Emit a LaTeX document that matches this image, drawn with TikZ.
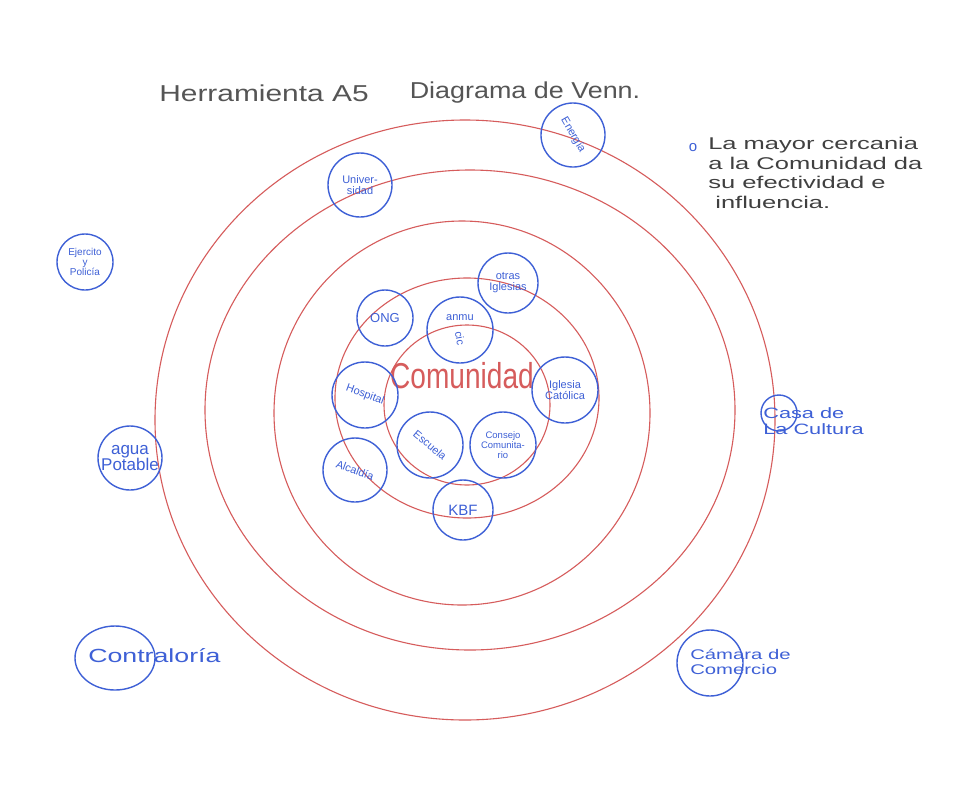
\documentclass[tikz,border=0pt]{standalone}
\usepackage{fontspec}
\setmainfont{Liberation Sans}
\usetikzlibrary{shapes.geometric}
\definecolor{ringred}{RGB}{214,92,92}
\definecolor{orgblue}{RGB}{62,96,214}
\definecolor{titlegray}{RGB}{85,85,85}
\begin{document}
\begin{tikzpicture}[x=1pt,y=-1pt,
  ring/.style={draw=ringred, line width=1.1pt},
  org/.style={circle, draw=orgblue, line width=1.4pt, text=orgblue, inner sep=0pt, align=center, font=\fontsize{11}{11}\selectfont},
  orgtext/.style={text=orgblue, inner sep=0pt, align=left, xscale=1.45},
  ttl/.style={text=titlegray, inner sep=0pt, font=\fontsize{23}{23}\selectfont}]
\useasboundingbox (0,0) rectangle (977,785);
\fill[white] (0,0) rectangle (977,785);
% rings
\draw[ring] (465,420) ellipse [x radius=310, y radius=300];
\draw[ring] (470,410) ellipse [x radius=265, y radius=240];
\draw[ring] (462,413) ellipse [x radius=188, y radius=192];
\draw[ring] (467,398) ellipse [x radius=132, y radius=120];
\draw[ring] (467,405) ellipse [x radius=83, y radius=80];
% title
\node[ttl, xscale=1.3] (t1) at (264,93) {Herramienta A5};
\node[ttl, xscale=1.17] (t2) at (525,93) {Diagrama de Venn.};
% note
\node[text=orgblue, inner sep=0pt, font=\fontsize{15}{15}\selectfont] (bul) at (693,148) {o};
\node[text=black!75, inner sep=0pt, align=left, anchor=north west, xscale=1.5, font=\fontsize{17}{19.5}\selectfont] (note) at (708,137) {La mayor cercania\\a la Comunidad da\\su efectividad e\\\ influencia.};
% centre
\node[text=ringred, inner sep=0pt, xscale=0.78, font=\fontsize{36}{36}\selectfont] (com) at (462,376) {Comunidad};
% organisations
\node[org, minimum size=64, rotate=-60] (energia) at (573,135) {Energía};
\node[org, minimum size=64] (univ) at (360,185) {Univer-\\sidad};
\node[org, minimum size=56, font=\fontsize{10}{10}\selectfont] (ejer) at (85,262) {Ejercito\\y\\Policía};
\node[org, minimum size=60] (otras) at (508,283) {otras\\Iglesias};
\node[org, minimum size=56, font=\fontsize{13}{13}\selectfont] (ong) at (385,318) {ONG};
\node[org, minimum size=66] (anm) at (460,330) {anmu\\[1pt]\rotatebox{-80}{cic}};
\node[org, minimum size=66] (hosp) at (365,395) {\rotatebox{-20}{Hospital}};
\node[org, minimum size=66] (igcat) at (565,390) {Iglesia\\Católica};
\node[org, minimum size=66] (esc) at (430,445) {\rotatebox{-40}{Escuela}};
\node[org, minimum size=66, font=\fontsize{9.5}{10}\selectfont] (cons) at (503,445) {Consejo\\Comunita-\\rio};
\node[org, minimum size=64] (alc) at (355,470) {\rotatebox{-20}{Alcaldía}};
\node[org, minimum size=60, font=\fontsize{15}{15}\selectfont] (kbf) at (463,510) {KBF};
\node[org, minimum size=64, font=\fontsize{17}{17}\selectfont] (agua) at (130,458) {agua\\Potable};
\node[org, minimum size=36] (casa) at (779,413) {};
\node[orgtext, anchor=west, font=\fontsize{15}{16}\selectfont] (casat) at (763,421) {Casa de\\La Cultura};
\node[ellipse, draw=orgblue, line width=1.4pt, minimum width=80, minimum height=64] (contra) at (115,658) {};
\node[orgtext, anchor=west, xscale=0.97, font=\fontsize{19}{19}\selectfont] (contrat) at (88,656) {Contraloría};
\node[org, minimum size=66] (cam) at (710,663) {};
\node[orgtext, anchor=west, font=\fontsize{14}{15}\selectfont] (camt) at (690,662) {Cámara de\\Comercio};
\end{tikzpicture}
\end{document}
